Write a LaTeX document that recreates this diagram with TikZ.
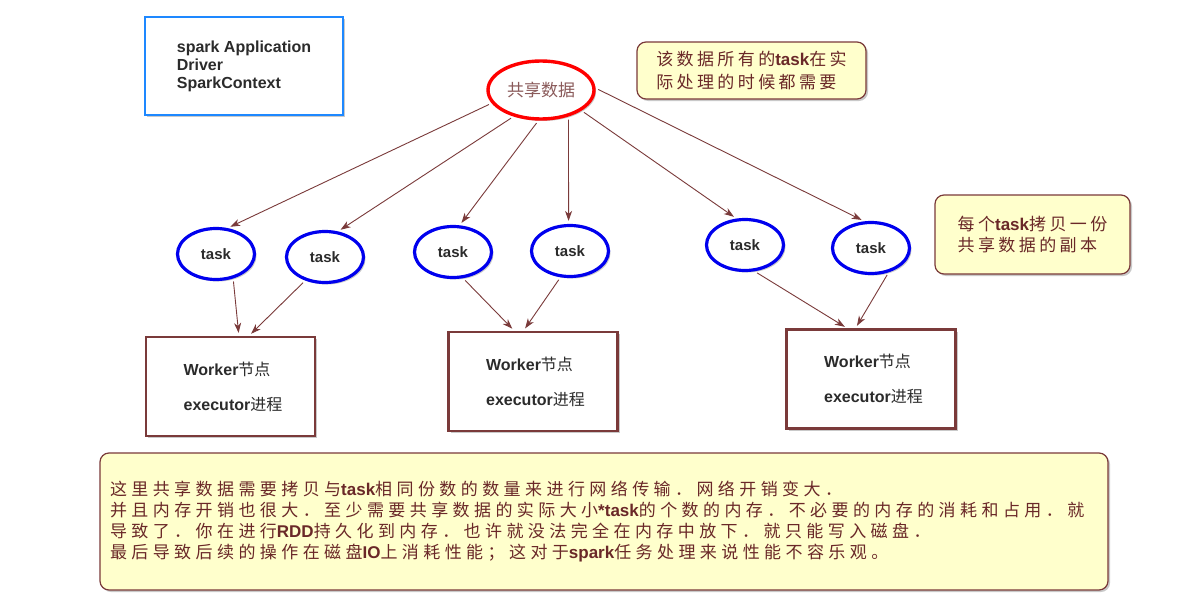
\documentclass[tikz,border=0pt]{standalone}
\usepackage{fontspec}
\setmainfont{Liberation Sans}
\newfontfamily\latin{Liberation Sans}
\newfontfamily\cjk{Noto Sans CJK SC}
\newfontfamily\cjknote{Noto Sans CJK SC}[LetterSpace=20]
\newfontfamily\cjkbig{Noto Sans CJK SC}[LetterSpace=26]
\usetikzlibrary{shapes.geometric,arrows.meta,shadows}
\definecolor{brn}{HTML}{7A3A3A}
\definecolor{notetxt}{HTML}{6A2828}
\definecolor{notefill}{HTML}{FFFFCC}
\definecolor{bluebox}{HTML}{1E88FF}
\definecolor{taskblue}{HTML}{0000EE}
\definecolor{sharetxt}{HTML}{8A5A5A}
\definecolor{wtxt}{HTML}{2B2B2B}
\newcommand\lb[1]{{\latin\bfseries #1}}
\tikzset{
  shad/.style={drop shadow={shadow xshift=2pt,shadow yshift=-2pt,opacity=0.35,fill=black!60}},
  infobox/.style={rectangle, draw=bluebox, line width=2.5pt, fill=white, minimum width=198pt, minimum height=98pt, align=left, text=wtxt, font=\bfseries\fontsize{16}{18}\selectfont, shad},
  shareell/.style={ellipse, draw=red, line width=3.4pt, fill=white, minimum width=106pt, minimum height=58pt, inner sep=0pt, text=sharetxt, font=\cjk\fontsize{17}{18}\selectfont, shad},
  taskell/.style={ellipse, draw=taskblue, line width=3.2pt, fill=white, minimum width=77pt, minimum height=51pt, inner sep=0pt, font=\bfseries\fontsize{15}{16}\selectfont, text=wtxt, shad},
  worker/.style={rectangle, draw=brn, line width=2.2pt, fill=white, minimum width=169pt, minimum height=99pt, align=left, font=\fontsize{16}{35}\selectfont, text=wtxt, shad},
  note/.style={rectangle, rounded corners=9pt, draw=brn, line width=1.2pt, fill=notefill, text=notetxt, align=left, shad},
  conn/.style={draw=brn, line width=0.9pt, shorten <=3pt, shorten >=3pt, -{Stealth[length=10pt,width=7pt,inset=3pt]}},
}
\begin{document}
\begin{tikzpicture}[x=1pt,y=-1pt]
\fill[white] (0,0) rectangle (1200,613);
\useasboundingbox (0,0) rectangle (1200,613);

\node[infobox] (app) at (244,66) {spark Application\\Driver\\SparkContext};

\node[shareell] (share) at (541,90) {共享数据};

\node[note, minimum width=229pt, minimum height=57pt, font=\fontsize{17}{23}\selectfont] (n1) at (751.5,70.5)
  {{\cjknote 该数据所有的}\lb{task}{\cjknote 在实}\\{\cjknote 际处理的时候都需要}};

\node[note, minimum width=195pt, minimum height=79pt, font=\fontsize{17}{21}\selectfont] (n2) at (1032.5,234.5)
  {{\cjknote 每个}\lb{task}{\cjknote 拷贝一份}\\{\cjknote 共享数据的副本}};

\node[taskell] (t1) at (216,254) {task};
\node[taskell] (t2) at (325,257) {task};
\node[taskell] (t3) at (453,252) {task};
\node[taskell] (t4) at (570,251) {task};
\node[taskell] (t5) at (745,245) {task};
\node[taskell] (t6) at (871,248) {task};

\node[worker] (w1) at (230.5,386.5) {\hspace*{5pt}\lb{Worker}{\cjk 节点}\\\hspace*{5pt}\lb{executor}{\cjk 进程}};
\node[worker] (w2) at (533,381.5) {\hspace*{5pt}\lb{Worker}{\cjk 节点}\\\hspace*{5pt}\lb{executor}{\cjk 进程}};
\node[worker] (w3) at (871,379) {\hspace*{5pt}\lb{Worker}{\cjk 节点}\\\hspace*{5pt}\lb{executor}{\cjk 进程}};

\node[note, minimum height=137pt, text width=988pt, inner xsep=10pt, font=\cjkbig\fontsize{17}{21.3}\selectfont] (n3) at (604,521.5)
  {这里共享数据需要拷贝与\lb{task}相同份数的数量来进行网络传输．网络开销变大．\\
   并且内存开销也很大．至少需要共享数据的实际大小\lb{*task}的个数的内存．不必要的内存的消耗和占用．就\\
   导致了．你在进行\lb{RDD}持久化到内存．也许就没法完全在内存中放下．就只能写入磁盘．\\
   最后导致后续的操作在磁盘\lb{IO}上消耗性能；这对于\lb{spark}任务处理来说性能不容乐观。};

\draw[conn] (share.195) -- (t1.66);
\draw[conn] (share.224) -- (t2.63);
\draw[conn] (share.265) -- (t3.76);
\draw[conn] (share.316) -- (t4.93);
\draw[conn] (share.333) -- (t5.108);
\draw[conn] (share.2) -- (t6.104);

\draw[conn] (t1.305) -- ([xshift=94pt]w1.north west);
\draw[conn] (t2.230) -- ([xshift=104pt]w1.north west);
\draw[conn] (t3.291) -- ([xshift=67pt]w2.north west);
\draw[conn] (t4.250) -- ([xshift=76pt]w2.north west);
\draw[conn] (t5.290) -- ([xshift=62pt]w3.north west);
\draw[conn] (t6.306) -- ([xshift=70pt]w3.north west);
\end{tikzpicture}
\end{document}
